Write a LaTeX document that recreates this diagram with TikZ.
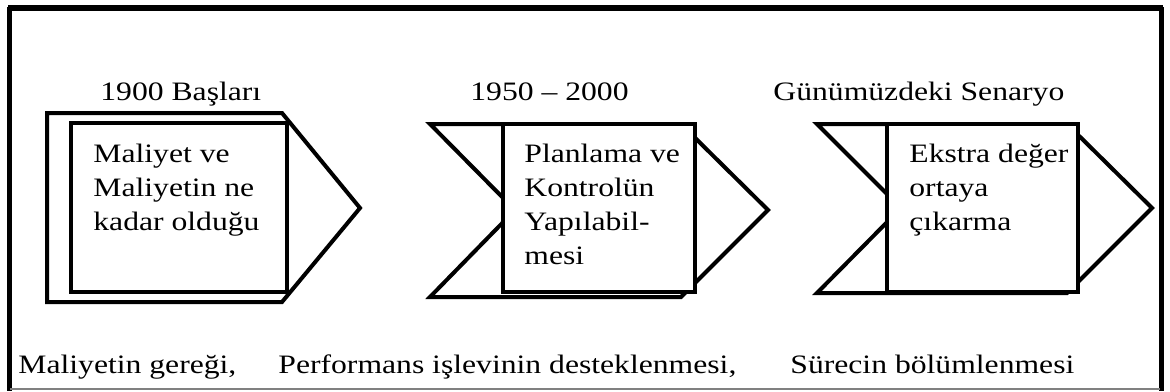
\documentclass[tikz,border=0pt]{standalone}
\usepackage{fontspec}
\setmainfont{Liberation Serif}[FakeStretch=1.19]
\begin{document}
\begin{tikzpicture}[x=0.5pt,y=-0.5pt,
  shp/.style={line width=2pt,line join=miter},
  box/.style={line width=2pt,fill=white},
  frame/.style={line width=2.8pt},
  lbl/.style={anchor=base west,inner sep=0pt,font=\fontsize{13.3}{17}\selectfont},
  inner/.style={anchor=north west,inner sep=0pt,align=left,font=\fontsize{13.3}{17}\selectfont}]
\useasboundingbox (0,0) rectangle (1170,391);
% frame
\draw[frame] (8,8) -- (1163,8);
\draw[frame] (9.5,7) -- (9.5,391);
\draw[frame] (1161.5,7) -- (1161.5,391);
\draw[line width=0.6pt,gray] (10,389) -- (1160,389);
% shape 1
\draw[shp] (47,113) -- (282,113) -- (360,208) -- (282,302) -- (47,302) -- cycle;
\draw[box] (71,123) rectangle (287,292);
% shape 2
\draw[shp] (430,124) -- (681,124) -- (768,210) -- (681,297) -- (430,297) -- (515,210) -- cycle;
\draw[box] (503,124) rectangle (695,292);
% shape 3
\draw[shp] (817,124) -- (1067,124) -- (1152,208) -- (1067,293) -- (817,293) -- (901,208) -- cycle;
\draw[box] (887,124) rectangle (1078,292);
% titles
\node[lbl] (t1) at (100,100) {1900 Başları};
\node[lbl] (t2) at (470,100) {1950 – 2000};
\node[lbl] (t3) at (773,100) {Günümüzdeki Senaryo};
% inner texts
\node[inner] (i1) at (93,144) {Maliyet ve\\Maliyetin ne\\kadar olduğu};
\node[inner] (i2) at (524,144) {Planlama ve\\Kontrolün\\Yapılabil-\\mesi};
\node[inner] (i3) at (909,144) {Ekstra değer\\ortaya\\çıkarma};
% bottom texts
\node[lbl] (b1) at (18,373) {Maliyetin gereği,};
\node[lbl] (b2) at (278,373) {Performans işlevinin desteklenmesi,};
\node[lbl] (b3) at (790,373) {Sürecin bölümlenmesi};
\end{tikzpicture}
\end{document}
